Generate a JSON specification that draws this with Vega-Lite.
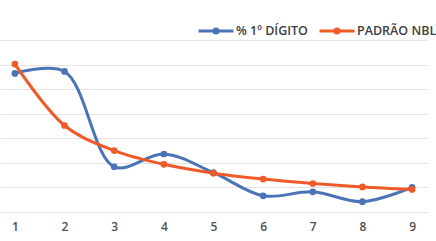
{
  "$schema": "https://vega.github.io/schema/vega-lite/v6.json",
  "autosize": "none",
  "width": 427,
  "height": 172,
  "padding": {"left": 0, "top": 40, "right": 9, "bottom": 29},
  "background": "white",
  "config": {"view": {"stroke": null}, "font": "Open Sans"},
  "data": {"values": [
    {"digit": "1", "series": "% 1º DÍGITO", "value": 28.2},
    {"digit": "2", "series": "% 1º DÍGITO", "value": 28.6},
    {"digit": "3", "series": "% 1º DÍGITO", "value": 9.2},
    {"digit": "4", "series": "% 1º DÍGITO", "value": 11.8},
    {"digit": "5", "series": "% 1º DÍGITO", "value": 8.0},
    {"digit": "6", "series": "% 1º DÍGITO", "value": 3.3},
    {"digit": "7", "series": "% 1º DÍGITO", "value": 4.1},
    {"digit": "8", "series": "% 1º DÍGITO", "value": 2.1},
    {"digit": "9", "series": "% 1º DÍGITO", "value": 5.0},
    {"digit": "1", "series": "PADRÃO NBL", "value": 30.1},
    {"digit": "2", "series": "PADRÃO NBL", "value": 17.6},
    {"digit": "3", "series": "PADRÃO NBL", "value": 12.5},
    {"digit": "4", "series": "PADRÃO NBL", "value": 9.7},
    {"digit": "5", "series": "PADRÃO NBL", "value": 7.9},
    {"digit": "6", "series": "PADRÃO NBL", "value": 6.7},
    {"digit": "7", "series": "PADRÃO NBL", "value": 5.8},
    {"digit": "8", "series": "PADRÃO NBL", "value": 5.1},
    {"digit": "9", "series": "PADRÃO NBL", "value": 4.6}
  ]},
  "encoding": {
    "x": {"field": "digit", "type": "ordinal", "sort": null,
      "scale": {"type": "point", "padding": 0.3},
      "axis": {"title": null, "labelAngle": 0, "domain": false, "ticks": false, "labelPadding": 9, "labelFontSize": 12, "labelFontWeight": 600, "labelColor": "#505050", "labelFont": "Open Sans"}},
    "y": {"field": "value", "type": "quantitative",
      "scale": {"domain": [0, 35], "nice": false},
      "axis": {"title": null, "labels": false, "ticks": false, "domain": false, "values": [0,5,10,15,20,25,30,35], "gridColor": "#e4e4e4", "gridWidth": 1}},
    "color": {"field": "series", "type": "nominal", "sort": null,
      "scale": {"domain": ["% 1º DÍGITO", "PADRÃO NBL"], "range": ["#4a74b8", "#f05a28"]},
      "legend": {"title": null, "orient": "none", "legendX": 197, "legendY": -28, "direction": "horizontal", "gridAlign": "none",
        "symbolType": "M-1,0L1,0M-0.12,0a0.12,0.12 0 1,0 0.24,0a0.12,0.12 0 1,0 -0.24,0",
        "symbolSize": 1225, "symbolStrokeWidth": 3, "labelFontSize": 12.5, "labelFontWeight": 600, "labelColor": "#404040", "labelFont": "Open Sans", "labelOffset": 1, "columnPadding": 5}}
  },
  "layer": [
    {"mark": {"type": "line", "interpolate": "catmull-rom", "strokeWidth": 3}},
    {"mark": {"type": "point", "filled": true, "size": 45, "opacity": 1}}
  ]
}
